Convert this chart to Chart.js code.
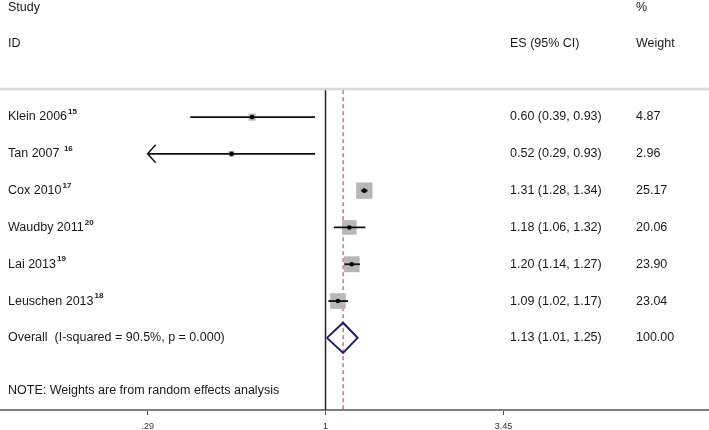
<!DOCTYPE html>
<html>
<head>
<meta charset="utf-8">
<script src="https://cdn.jsdelivr.net/npm/chart.js@4.4.1/dist/chart.umd.min.js"></script>
<style>
  html, body { margin: 0; padding: 0; background: #fff; }
  #wrap { width: 709px; height: 430px; position: relative; }
</style>
</head>
<body>
<div id="wrap"><canvas id="forest"></canvas></div>
<script>
// Forest plot: study estimates on a log scale (random effects)
const studies = ['Klein 2006', 'Tan 2007 ', 'Cox 2010', 'Waudby 2011', 'Lai 2013', 'Leuschen 2013'];
const refs = ['15', '16', '17', '20', '19', '18'];
const es = [0.60, 0.52, 1.31, 1.18, 1.20, 1.09];
const ciLow = [0.39, 0.29, 1.28, 1.06, 1.14, 1.02];
const ciHigh = [0.93, 0.93, 1.34, 1.32, 1.27, 1.17];
const weights = [4.87, 2.96, 25.17, 20.06, 23.90, 23.04];

const overallLabel = 'Overall  (I-squared = 90.5%, p = 0.000)';
const overallEs = 1.13;
const overallLow = 1.01;
const overallHigh = 1.25;
const overallWeight = 100.00;

const tickValues = [0.29, 1, 3.45];
const tickLabels = ['.29', '1', '3.45'];
const noteText = 'NOTE: Weights are from random effects analysis';

// layout constants (row units on the y scale)
const X_MIN = 0.1038, X_MAX = 14.42;
const Y_MIN = -2.18, Y_MAX = 8.96;
const LINE_TOP = 0.27;       // where the vertical reference lines start
const DIAMOND_HALF = 0.41;   // half height of the pooled diamond
const BOX_SCALE = 3.25;      // box side in px per sqrt(weight)
const clipLow = tickValues[0];

const FONT = '"Liberation Sans", Arial, sans-serif';
const TEXT_FONT = '12.5px ' + FONT;
const overallRow = studies.length + 1;

const datasets = [];

// grey weight boxes
datasets.push({
  type: 'scatter',
  data: es.map((v, i) => ({ x: v, y: i + 1 })),
  pointStyle: 'rect',
  pointRadius: weights.map(w => BOX_SCALE * Math.sqrt(w) / (2 * Math.SQRT1_2)),
  backgroundColor: '#b7b7b7',
  pointBorderWidth: 0,
  order: 5
});

// confidence interval lines
es.forEach((v, i) => {
  datasets.push({
    type: 'scatter',
    data: [{ x: ciLow[i], y: i + 1 }, { x: ciHigh[i], y: i + 1 }],
    showLine: true,
    borderColor: '#111',
    borderWidth: 1.8,
    pointRadius: 0,
    order: 4
  });
});

// point estimate dots
datasets.push({
  type: 'scatter',
  data: es.map((v, i) => ({ x: v, y: i + 1 })),
  pointRadius: 2.3,
  backgroundColor: '#000',
  pointBorderWidth: 0,
  order: 3
});

// null line at 1
datasets.push({
  type: 'scatter',
  data: [{ x: 1, y: LINE_TOP }, { x: 1, y: Y_MAX }],
  showLine: true,
  borderColor: '#222',
  borderWidth: 1.5,
  pointRadius: 0,
  order: 6
});

// dashed line at the pooled estimate
datasets.push({
  type: 'scatter',
  data: [{ x: overallEs, y: LINE_TOP }, { x: overallEs, y: Y_MAX }],
  showLine: true,
  borderColor: '#a03848',
  borderWidth: 1,
  borderDash: [4, 3],
  pointRadius: 0,
  order: 6
});

// pooled diamond
datasets.push({
  type: 'scatter',
  data: [
    { x: overallLow, y: overallRow },
    { x: overallEs, y: overallRow - DIAMOND_HALF },
    { x: overallHigh, y: overallRow },
    { x: overallEs, y: overallRow + DIAMOND_HALF },
    { x: overallLow, y: overallRow }
  ],
  showLine: true,
  borderColor: '#1c1c6e',
  borderWidth: 2,
  pointRadius: 0,
  order: 2
});

const textPlugin = {
  id: 'forestText',
  beforeDatasetsDraw(chart) {
    const ctx = chart.ctx;
    ctx.save();
    ctx.strokeStyle = '#d9d9d9';
    ctx.lineWidth = 2.5;
    ctx.beginPath();
    ctx.moveTo(0, 89);
    ctx.lineTo(chart.width, 89);
    ctx.stroke();
    ctx.restore();
  },
  afterDatasetsDraw(chart) {
    const ctx = chart.ctx;
    const xs = chart.scales.x;
    const ys = chart.scales.y;
    ctx.save();
    ctx.fillStyle = '#1a1a1a';
    ctx.textBaseline = 'middle';
    ctx.font = TEXT_FONT;

    // headers
    ctx.fillText('Study', 8, 8);
    ctx.fillText('ID', 8, 44);
    ctx.fillText('ES (95% CI)', 510, 44);
    ctx.fillText('%', 636, 8);
    ctx.fillText('Weight', 636, 44);

    studies.forEach((name, i) => {
      const py = ys.getPixelForValue(i + 1);
      ctx.font = TEXT_FONT;
      ctx.fillText(name, 8, py);
      const w = ctx.measureText(name).width;
      ctx.font = 'bold 8px ' + FONT;
      ctx.fillText(refs[i], 8 + w + 1, py - 5);
      ctx.font = TEXT_FONT;
      ctx.fillText(es[i].toFixed(2) + ' (' + ciLow[i].toFixed(2) + ', ' + ciHigh[i].toFixed(2) + ')', 510, py);
      ctx.fillText(weights[i].toFixed(2), 636, py);

      // arrow where the interval runs past the axis bound
      if (ciLow[i] <= clipLow) {
        const ax = xs.getPixelForValue(clipLow);
        ctx.strokeStyle = '#111';
        ctx.lineWidth = 1.5;
        ctx.beginPath();
        ctx.moveTo(ax + 8, py - 9);
        ctx.lineTo(ax, py);
        ctx.lineTo(ax + 8, py + 9);
        ctx.stroke();
      }
    });

    const oy = ys.getPixelForValue(overallRow);
    ctx.font = TEXT_FONT;
    ctx.fillText(overallLabel, 8, oy);
    ctx.fillText(overallEs.toFixed(2) + ' (' + overallLow.toFixed(2) + ', ' + overallHigh.toFixed(2) + ')', 510, oy);
    ctx.fillText(overallWeight.toFixed(2), 636, oy);

    ctx.fillText(noteText, 8, 391);
    ctx.restore();
  }
};

new Chart(document.getElementById('forest'), {
  type: 'scatter',
  data: { datasets: datasets },
  options: {
    responsive: true,
    maintainAspectRatio: false,
    animation: false,
    events: [],
    layout: { padding: 0, autoPadding: false },
    plugins: { legend: { display: false }, tooltip: { enabled: false } },
    scales: {
      x: {
        type: 'logarithmic',
        min: X_MIN,
        max: X_MAX,
        afterBuildTicks(scale) {
          scale.ticks = tickValues.map(v => ({ value: v }));
        },
        afterFit(scale) {
          scale.height = 20;
        },
        ticks: {
          autoSkip: false,
          maxRotation: 0,
          padding: 6,
          color: '#333',
          font: { size: 9, family: FONT },
          callback: function(value) {
            const idx = tickValues.indexOf(value);
            return idx >= 0 ? tickLabels[idx] : '';
          }
        },
        grid: { drawOnChartArea: false, drawTicks: true, tickLength: 5, color: '#555' },
        border: { display: true, color: '#7f7f7f', width: 2 }
      },
      y: {
        type: 'linear',
        display: false,
        reverse: true,
        min: Y_MIN,
        max: Y_MAX
      }
    }
  },
  plugins: [textPlugin]
});
</script>
</body>
</html>
